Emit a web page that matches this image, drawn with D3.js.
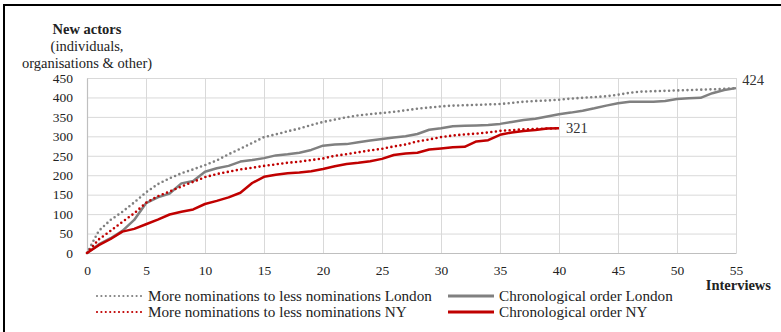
<!DOCTYPE html>
<html>
<head>
<meta charset="utf-8">
<script src="https://cdn.jsdelivr.net/npm/d3@7"></script>
<style>
  body { margin: 0; background: #fff; }
  svg { display: block; font-family: "Liberation Serif", "Times New Roman", serif; }
</style>
</head>
<body>
<svg id="visualization" width="781" height="332"></svg>
<script>
// cumulative number of new actors per interview
const londonChrono = [0, 22, 38, 57, 85, 128, 143, 153, 179, 185, 209, 218, 224, 235, 239, 244, 251, 254, 258, 265,
    276, 279, 280, 285, 289, 293, 297, 300, 306, 317, 321, 326, 327, 328, 329, 332, 337, 342, 345, 351,
    357, 361, 366, 372, 379, 385, 389, 389, 389, 391, 396, 398, 399, 411, 419, 424];
const londonNominations = [0, 57, 85, 106, 130, 156, 177, 192, 205, 215, 226, 238, 254, 268, 283, 298, 305, 313, 320, 329,
    337, 343, 349, 354, 357, 360, 363, 367, 371, 374, 377, 379, 380, 381, 382, 383, 386, 389, 391, 392,
    394, 397, 399, 401, 403, 407, 412, 415, 416, 417, 418, 419, 420, 421, 422, 424];
const nyChrono = [0, 20, 36, 55, 62, 74, 86, 99, 106, 112, 126, 134, 143, 155, 180, 196, 201, 205, 207, 210,
    216, 223, 229, 232, 236, 242, 252, 256, 258, 266, 269, 272, 273, 287, 290, 304, 310, 314, 316, 320, 321];
const nyNominations = [0, 35, 57, 80, 102, 129, 146, 158, 171, 183, 195, 203, 209, 215, 219, 224, 228, 232, 235, 239,
    243, 250, 254, 259, 264, 268, 274, 279, 287, 292, 298, 302, 305, 307, 310, 314, 316, 318, 319, 320, 321];

const xTicks = d3.range(0, 56, 5);
const yTicks = d3.range(0, 451, 50);
const seriesNames = [
    "More nominations to less nominations London",
    "Chronological order London",
    "More nominations to less nominations NY",
    "Chronological order NY"
];
const endLabels = ["424", "321"];

const grey = "#808080";
const red = "#c00000";

const series = [
    { name: seriesNames[0], values: londonNominations, color: grey, dotted: true },
    { name: seriesNames[1], values: londonChrono, color: grey, dotted: false },
    { name: seriesNames[2], values: nyNominations, color: red, dotted: true },
    { name: seriesNames[3], values: nyChrono, color: red, dotted: false }
];

const svg = d3.select("#visualization");

// frame (top and left edges visible)
svg.append("path")
    .attr("d", "M4,332 V5 H781")
    .attr("fill", "none")
    .attr("stroke", "#000")
    .attr("stroke-width", 2);

const x = d3.scaleLinear().domain([0, 55]).range([87, 736]);
const y = d3.scaleLinear().domain([0, 450]).range([253, 78]);

// grid
svg.append("g")
    .attr("transform", `translate(0,${y(0)})`)
    .call(d3.axisBottom(x).tickValues(xTicks).tickSize(-(y(0) - y(450))).tickFormat(""))
    .call(g => g.select(".domain").remove())
    .call(g => g.selectAll("line").attr("stroke", "#d9d9d9"));

svg.append("g")
    .attr("transform", `translate(${x(0)},0)`)
    .call(d3.axisLeft(y).tickValues(yTicks).tickSize(-(x(55) - x(0))).tickFormat(""))
    .call(g => g.select(".domain").remove())
    .call(g => g.selectAll("line").attr("stroke", "#d9d9d9"));

// axes
const xAxis = svg.append("g")
    .attr("transform", `translate(0,${y(0)})`)
    .call(d3.axisBottom(x).tickValues(xTicks).tickSize(0).tickPadding(12));
const yAxis = svg.append("g")
    .attr("transform", `translate(${x(0)},0)`)
    .call(d3.axisLeft(y).tickValues(yTicks).tickSize(0).tickPadding(14));

[xAxis, yAxis].forEach(a => {
    a.select(".domain").attr("stroke", "#bfbfbf").attr("stroke-width", 1.2);
    a.selectAll("text")
        .attr("font-family", '"Liberation Serif", serif')
        .attr("font-size", 13.5)
        .attr("fill", "#222");
});

// axis titles
const yTitle = svg.append("text")
    .attr("text-anchor", "middle")
    .attr("fill", "#222")
    .attr("font-size", 14.5);
yTitle.append("tspan").attr("x", 87).attr("y", 34).attr("font-weight", "bold").text("New actors");
yTitle.append("tspan").attr("x", 87).attr("y", 51).text("(individuals,");
yTitle.append("tspan").attr("x", 87).attr("y", 68).text("organisations & other)");

svg.append("text")
    .attr("x", 771)
    .attr("y", 290)
    .attr("text-anchor", "end")
    .attr("font-weight", "bold")
    .attr("font-size", 14.5)
    .attr("fill", "#222")
    .text("Interviews");

// lines
const line = d3.line()
    .x((d, i) => x(i))
    .y(d => y(d));

svg.append("g")
    .selectAll("path")
    .data(series)
    .join("path")
    .attr("fill", "none")
    .attr("stroke", d => d.color)
    .attr("stroke-width", d => d.dotted ? 2.6 : 2.5)
    .attr("stroke-linecap", d => d.dotted ? "round" : "butt")
    .attr("stroke-linejoin", "round")
    .attr("stroke-dasharray", d => d.dotted ? "0 4.6" : null)
    .attr("d", d => line(d.values));

// end labels
svg.append("text")
    .attr("x", x(londonChrono.length - 1) + 17)
    .attr("y", y(londonChrono[londonChrono.length - 1]) - 3)
    .attr("text-anchor", "middle")
    .attr("font-size", 14.5)
    .attr("fill", "#333")
    .text(endLabels[0]);

svg.append("text")
    .attr("x", x(nyChrono.length - 1) + 7)
    .attr("y", y(nyChrono[nyChrono.length - 1]) + 5)
    .attr("font-size", 14.5)
    .attr("fill", "#333")
    .text(endLabels[1]);

// legend
const legendPos = [
    { lx: 97, ly: 296 },
    { lx: 448, ly: 296 },
    { lx: 97, ly: 312 },
    { lx: 448, ly: 312 }
];

const legend = svg.append("g")
    .selectAll("g")
    .data(series)
    .join("g")
    .attr("transform", (d, i) => `translate(${legendPos[i].lx},${legendPos[i].ly})`);

legend.append("line")
    .attr("x1", 0)
    .attr("x2", 46)
    .attr("stroke", d => d.color)
    .attr("stroke-width", d => d.dotted ? 2.2 : 2.8)
    .attr("stroke-linecap", d => d.dotted ? "round" : "butt")
    .attr("stroke-dasharray", d => d.dotted ? "0 4.4" : null);

legend.append("text")
    .attr("x", 51)
    .attr("y", 5)
    .attr("font-size", 15.2)
    .attr("fill", "#222")
    .text(d => d.name);
</script>
</body>
</html>
